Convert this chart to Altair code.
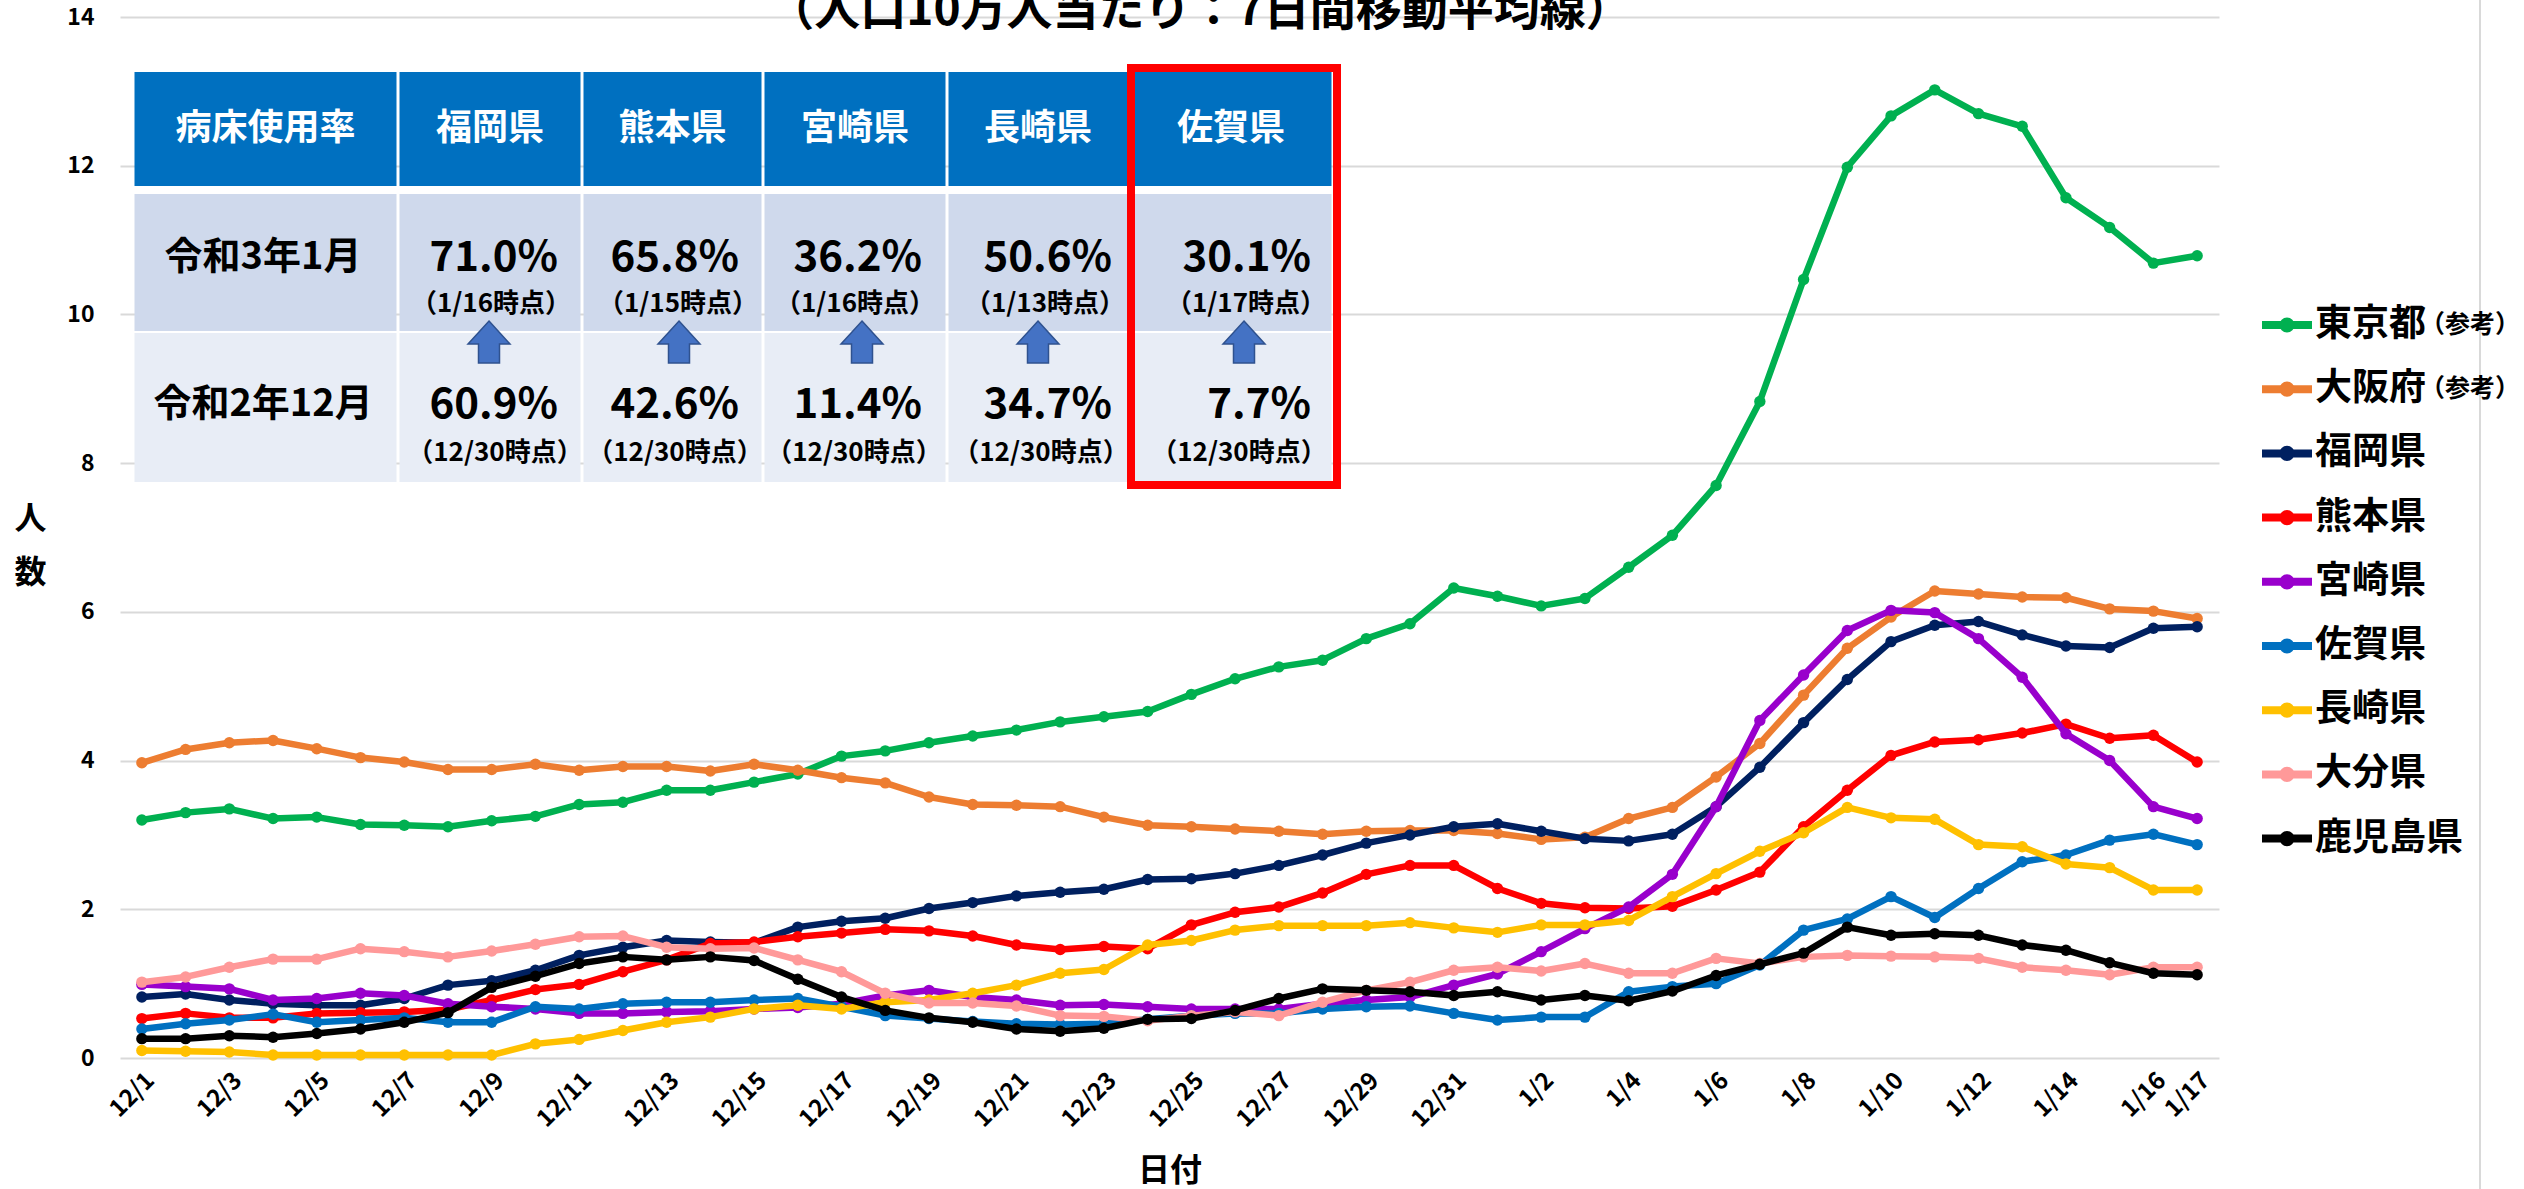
import altair as alt
import pandas as pd

FONT = "Noto Sans CJK JP"

# ---------------- data ----------------
dates = ["12/1", "12/2", "12/3", "12/4", "12/5", "12/6", "12/7", "12/8", "12/9", "12/10",
         "12/11", "12/12", "12/13", "12/14", "12/15", "12/16", "12/17", "12/18", "12/19", "12/20",
         "12/21", "12/22", "12/23", "12/24", "12/25", "12/26", "12/27", "12/28", "12/29", "12/30",
         "12/31", "1/1", "1/2", "1/3", "1/4", "1/5", "1/6", "1/7", "1/8", "1/9",
         "1/10", "1/11", "1/12", "1/13", "1/14", "1/15", "1/16", "1/17"]
x_tick_labels = ["12/1", "12/3", "12/5", "12/7", "12/9", "12/11", "12/13", "12/15", "12/17",
                 "12/19", "12/21", "12/23", "12/25", "12/27", "12/29", "12/31", "1/2", "1/4",
                 "1/6", "1/8", "1/10", "1/12", "1/14", "1/16", "1/17"]
y_ticks = [0, 2, 4, 6, 8, 10, 12, 14]

series_names = ["東京都（参考）", "大阪府（参考）", "福岡県", "熊本県", "宮崎県",
                "佐賀県", "長崎県", "大分県", "鹿児島県"]
series_colors = ["#00B050", "#ED7D31", "#002060", "#FF0000", "#9900CC",
                 "#0070C0", "#FFC000", "#FF9999", "#000000"]

tokyo = [3.20, 3.30, 3.35, 3.22, 3.24, 3.14, 3.13, 3.11,
         3.19, 3.25, 3.41, 3.44, 3.60, 3.60, 3.71, 3.82,
         4.06, 4.13, 4.24, 4.33, 4.41, 4.52, 4.59, 4.66,
         4.89, 5.10, 5.26, 5.35, 5.64, 5.84, 6.32, 6.21,
         6.08, 6.18, 6.60, 7.03, 7.70, 8.83, 10.47, 11.98,
         12.67, 13.02, 12.70, 12.53, 11.57, 11.17, 10.69, 10.79]
osaka = [3.97, 4.15, 4.24, 4.27, 4.16, 4.04, 3.98, 3.88,
         3.88, 3.95, 3.87, 3.92, 3.92, 3.86, 3.95, 3.87,
         3.77, 3.70, 3.51, 3.41, 3.40, 3.38, 3.24, 3.13,
         3.11, 3.08, 3.05, 3.01, 3.05, 3.06, 3.06, 3.02,
         2.94, 2.97, 3.22, 3.37, 3.78, 4.23, 4.88, 5.51,
         5.93, 6.28, 6.24, 6.20, 6.19, 6.04, 6.01, 5.91]
fukuoka = [0.82, 0.86, 0.78, 0.73, 0.71, 0.71, 0.80, 0.98,
           1.04, 1.18, 1.38, 1.49, 1.58, 1.56, 1.55, 1.76,
           1.84, 1.88, 2.01, 2.09, 2.18, 2.23, 2.27, 2.40,
           2.41, 2.48, 2.59, 2.73, 2.89, 3.00, 3.11, 3.15,
           3.05, 2.95, 2.92, 3.01, 3.38, 3.91, 4.51, 5.09,
           5.60, 5.82, 5.87, 5.69, 5.54, 5.52, 5.78, 5.80]
kumamoto = [0.53, 0.60, 0.54, 0.54, 0.60, 0.61, 0.62, 0.65,
            0.78, 0.92, 0.99, 1.16, 1.32, 1.54, 1.56, 1.63,
            1.68, 1.73, 1.71, 1.64, 1.52, 1.46, 1.50, 1.47,
            1.79, 1.96, 2.03, 2.22, 2.47, 2.59, 2.59, 2.28,
            2.08, 2.02, 2.01, 2.04, 2.26, 2.50, 3.11, 3.60,
            4.07, 4.25, 4.28, 4.37, 4.49, 4.30, 4.34, 3.98]
miyazaki = [0.99, 0.96, 0.93, 0.78, 0.80, 0.87, 0.84, 0.73,
            0.69, 0.66, 0.60, 0.60, 0.62, 0.63, 0.66, 0.68,
            0.73, 0.84, 0.91, 0.82, 0.78, 0.71, 0.72, 0.69,
            0.66, 0.66, 0.66, 0.73, 0.78, 0.82, 0.98, 1.13,
            1.43, 1.74, 2.03, 2.47, 3.38, 4.54, 5.15, 5.75,
            6.02, 5.99, 5.64, 5.12, 4.36, 4.00, 3.38, 3.22]
saga = [0.39, 0.46, 0.51, 0.59, 0.48, 0.51, 0.54, 0.48,
        0.48, 0.69, 0.66, 0.73, 0.75, 0.75, 0.78, 0.80,
        0.69, 0.57, 0.53, 0.49, 0.46, 0.45, 0.46, 0.52,
        0.57, 0.60, 0.60, 0.66, 0.69, 0.70, 0.60, 0.51,
        0.55, 0.55, 0.89, 0.96, 1.00, 1.25, 1.72, 1.87,
        2.17, 1.89, 2.28, 2.64, 2.73, 2.93, 3.01, 2.87]
nagasaki = [0.10, 0.09, 0.08, 0.04, 0.04, 0.04, 0.04, 0.04,
            0.04, 0.19, 0.25, 0.37, 0.48, 0.55, 0.66, 0.71,
            0.66, 0.75, 0.78, 0.87, 0.98, 1.14, 1.19, 1.52,
            1.58, 1.72, 1.78, 1.78, 1.78, 1.82, 1.75, 1.69,
            1.79, 1.79, 1.85, 2.17, 2.48, 2.78, 3.03, 3.37,
            3.23, 3.21, 2.87, 2.84, 2.61, 2.56, 2.26, 2.26]
oita = [1.02, 1.09, 1.22, 1.33, 1.33, 1.47, 1.43, 1.36,
        1.44, 1.53, 1.63, 1.64, 1.49, 1.47, 1.48, 1.32,
        1.16, 0.87, 0.74, 0.74, 0.70, 0.57, 0.56, 0.50,
        0.57, 0.62, 0.57, 0.75, 0.91, 1.02, 1.18, 1.22,
        1.17, 1.27, 1.14, 1.14, 1.34, 1.27, 1.36, 1.38,
        1.37, 1.36, 1.34, 1.22, 1.18, 1.12, 1.22, 1.22]
kagoshima = [0.26, 0.26, 0.30, 0.28, 0.33, 0.39, 0.48, 0.61,
             0.95, 1.10, 1.27, 1.36, 1.32, 1.36, 1.31, 1.06,
             0.82, 0.64, 0.54, 0.48, 0.39, 0.36, 0.40, 0.52,
             0.53, 0.64, 0.80, 0.93, 0.91, 0.89, 0.84, 0.89,
             0.78, 0.84, 0.77, 0.90, 1.11, 1.26, 1.41, 1.76,
             1.65, 1.67, 1.65, 1.52, 1.45, 1.28, 1.14, 1.12]
series_values = [tokyo, osaka, fukuoka, kumamoto, miyazaki, saga, nagasaki, oita, kagoshima]

chart_title = "（人口10万人当たり：7日間移動平均線）"
x_title = "日付"
y_title = ["人", "数"]
ref_note = "（参考）"

# table contents
table_header = ["病床使用率", "福岡県", "熊本県", "宮崎県", "長崎県", "佐賀県"]
row_labels = ["令和3年1月", "令和2年12月"]
jan_rates = ["71.0%", "65.8%", "36.2%", "50.6%", "30.1%"]
jan_asof = ["（1/16時点）", "（1/15時点）", "（1/16時点）", "（1/13時点）", "（1/17時点）"]
dec_rates = ["60.9%", "42.6%", "11.4%", "34.7%", "7.7%"]
dec_asof = ["（12/30時点）", "（12/30時点）", "（12/30時点）", "（12/30時点）", "（12/30時点）"]

# ---------------- layout (pixels, plot coordinates) ----------------
W, H = 2099, 1041
PAD = {"left": 120, "top": 17, "right": 305, "bottom": 131}
col_edges = [13, 278, 462, 643, 827, 1009, 1213]
row_spans = [(55, 169), (177, 314), (316, 465)]
row_fills = ["#0070C0", "#CFD9EC", "#E8EDF6"]
header_y = 112
label_x = 143
row1_y, row1_sub_y = 241, 287
row2_y, row2_sub_y = 388, 436
value_right = [438, 619, 802, 992, 1191]
row1_sub_x = [371, 558, 735, 925, 1126]
row2_sub_x = [375, 555, 734, 921, 1119]
arrow_x = [369, 559, 742, 918, 1124]
arrow_y = 325
redbox = dict(x=1011, x2=1217, y=51, y2=468)
# legend layout
leg_x0, leg_x1 = 2142, 2192
leg_y0, leg_dy = 308, 64.2
leg_text_x = 2195
leg_ref_x = 2300

# ---------------- long data ----------------
recs = []
for name, vals in zip(series_names, series_values):
    for d, v in zip(dates, vals):
        recs.append({"date": d, "series": name, "value": v})
df = pd.DataFrame(recs)

color_scale = alt.Scale(domain=series_names, range=series_colors)

x_enc = alt.X(
    "date:O",
    scale=alt.Scale(type="point", padding=0.5, domain=dates),
    axis=alt.Axis(
        values=x_tick_labels, labelAngle=-45, labelAlign="right", labelBaseline="top",
        labelFontSize=24, labelFontWeight="bold", labelColor="#000000", labelPadding=10,
        grid=False, domain=False, ticks=False, labelOverlap=False,
        title=x_title, titleFontSize=32, titleFontWeight="bold", titleColor="#000000",
        titleY=112, titleBaseline="middle",
    ),
)
y_enc = alt.Y(
    "value:Q",
    scale=alt.Scale(domain=[0, 14], nice=False, zero=True),
    axis=alt.Axis(
        values=y_ticks, labelFontSize=23, labelFontWeight="bold", labelColor="#000000",
        labelPadding=26, grid=True, gridColor="#D9D9D9", gridWidth=2, domain=False, ticks=False,
        title=y_title, titleAngle=0, titleX=-90, titleY=501, titleAlign="center",
        titleBaseline="middle", titleFontSize=32, titleFontWeight="bold", titleColor="#000000",
        titleLineHeight=54,
    ),
)

layers = []
for name in series_names:
    base = alt.Chart(df).transform_filter(alt.datum.series == name)
    line = base.mark_line(strokeWidth=6.5, strokeCap="round", strokeJoin="round").encode(
        x=x_enc, y=y_enc, color=alt.Color("series:N", scale=color_scale, legend=None)
    )
    pts = base.mark_circle(size=130, opacity=1).encode(
        x=x_enc, y=y_enc, color=alt.Color("series:N", scale=color_scale, legend=None)
    )
    layers += [line, pts]

# ---------------- legend (drawn from the series lists) ----------------
leg_df = pd.DataFrame({
    "name": [n.replace(ref_note, "") for n in series_names],
    "ref": [ref_note if ref_note in n else "" for n in series_names],
    "color": series_colors,
    "y": [leg_y0 + leg_dy * i for i in range(len(series_names))],
})
leg_df["x0"] = leg_x0
leg_df["x1"] = leg_x1
leg_df["xc"] = (leg_x0 + leg_x1) / 2
leg_df["xt"] = leg_text_x
leg_df["xr"] = leg_ref_x
leg_line = alt.Chart(leg_df).mark_rule(strokeWidth=8).encode(
    x=alt.X("x0:Q", scale=None), x2="x1", y=alt.Y("y:Q", scale=None),
    color=alt.Color("color:N", scale=None))
leg_dot = alt.Chart(leg_df).mark_circle(size=230, opacity=1).encode(
    x=alt.X("xc:Q", scale=None), y=alt.Y("y:Q", scale=None),
    color=alt.Color("color:N", scale=None))
leg_text = alt.Chart(leg_df).mark_text(
    fontSize=37, fontWeight="bold", color="#000000", align="left", baseline="middle"
).encode(x=alt.X("xt:Q", scale=None), y=alt.Y("y:Q", scale=None), text="name:N")
leg_ref = alt.Chart(leg_df).mark_text(
    fontSize=25, fontWeight="bold", color="#000000", align="left", baseline="middle"
).encode(x=alt.X("xr:Q", scale=None), y=alt.Y("y:Q", scale=None), text="ref:N")

# ---------------- table overlay ----------------
cells = []
for r, (y0, y1) in enumerate(row_spans):
    for c in range(len(col_edges) - 1):
        cells.append({"x": col_edges[c] + 1.5, "x2": col_edges[c + 1] - 1.5,
                      "y": y0, "y2": y1, "fill": row_fills[r]})
cells_df = pd.DataFrame(cells)
cell_layer = alt.Chart(cells_df).mark_rect().encode(
    x=alt.X("x:Q", scale=None), x2="x2", y=alt.Y("y:Q", scale=None), y2="y2",
    fill=alt.Fill("fill:N", scale=None),
)

header_df = pd.DataFrame({
    "x": [(col_edges[i] + col_edges[i + 1]) / 2 for i in range(6)],
    "y": [header_y] * 6, "t": table_header})
header_layer = alt.Chart(header_df).mark_text(
    fontSize=36, fontWeight="bold", color="#FFFFFF", align="center", baseline="middle"
).encode(x=alt.X("x:Q", scale=None), y=alt.Y("y:Q", scale=None), text="t:N")

rowlab_df = pd.DataFrame({"x": [label_x, label_x], "y": [row1_y, row2_y], "t": row_labels})
rowlab_layer = alt.Chart(rowlab_df).mark_text(
    fontSize=38, fontWeight="bold", color="#000000", align="center", baseline="middle"
).encode(x=alt.X("x:Q", scale=None), y=alt.Y("y:Q", scale=None), text="t:N")

val_df = pd.DataFrame({"x": value_right + value_right,
                       "y": [row1_y] * 5 + [row2_y] * 5,
                       "t": jan_rates + dec_rates})
val_layer = alt.Chart(val_df).mark_text(
    fontSize=42, fontWeight="bold", color="#000000", align="right", baseline="middle"
).encode(x=alt.X("x:Q", scale=None), y=alt.Y("y:Q", scale=None), text="t:N")

sub_df = pd.DataFrame({"x": row1_sub_x + row2_sub_x,
                       "y": [row1_sub_y] * 5 + [row2_sub_y] * 5,
                       "t": jan_asof + dec_asof})
sub_layer = alt.Chart(sub_df).mark_text(
    fontSize=26, fontWeight="bold", color="#000000", align="center", baseline="middle"
).encode(x=alt.X("x:Q", scale=None), y=alt.Y("y:Q", scale=None), text="t:N")

arrow_path = "M0,-1L1,0.1L0.5,0.1L0.5,1L-0.5,1L-0.5,0.1L-1,0.1Z"
arrow_df = pd.DataFrame({"x": arrow_x, "y": [arrow_y] * 5})
arrow_layer = alt.Chart(arrow_df).mark_point(
    shape=arrow_path, size=1764, filled=True, fill="#4472C4", stroke="#2F528F",
    strokeWidth=1.5, opacity=1
).encode(x=alt.X("x:Q", scale=None), y=alt.Y("y:Q", scale=None))

box_df = pd.DataFrame([redbox])
box_layer = alt.Chart(box_df).mark_rect(
    fillOpacity=0, stroke="#FF0000", strokeWidth=8
).encode(x=alt.X("x:Q", scale=None), x2="x2", y=alt.Y("y:Q", scale=None), y2="y2")

# ---------------- annotations ----------------
title_layer = alt.Chart(pd.DataFrame({"t": [chart_title]})).mark_text(
    fontSize=46, fontWeight="bold", color="#000000", align="center", baseline="alphabetic"
).encode(x=alt.value(1080), y=alt.value(8), text="t:N")

border_layer = alt.Chart(pd.DataFrame({"a": [0]})).mark_rule(
    color="#D9D9D9", strokeWidth=2
).encode(x=alt.value(2360), y=alt.value(-17), y2=alt.value(1172))

chart = alt.layer(
    border_layer, *layers, cell_layer, header_layer, rowlab_layer, val_layer, sub_layer,
    arrow_layer, box_layer, title_layer, leg_line, leg_dot, leg_text, leg_ref
).properties(
    width=W, height=H,
    autosize=alt.AutoSizeParams(type="none"),
    padding=PAD,
    background="#FFFFFF",
).configure(font=FONT).configure_view(stroke=None)

chart.save("out.html", embed_options={"renderer": "svg", "actions": False})
